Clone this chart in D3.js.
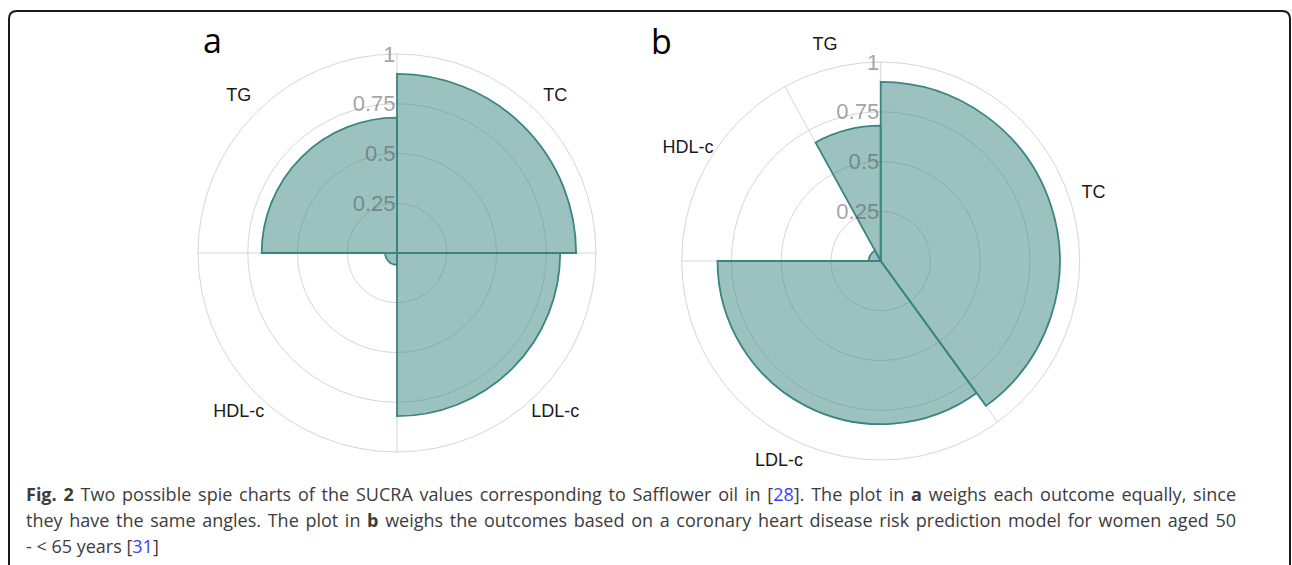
<!DOCTYPE html>
<html>
<head>
<meta charset="utf-8">
<script src="https://cdn.jsdelivr.net/npm/d3@7"></script>
<style>
  body { margin: 0; background: #fff; }
  #wrap { position: relative; width: 1292px; height: 565px; overflow: hidden; }
  .caption {
    position: absolute; left: 26px; top: 481px; width: 1210px;
    font-family: "Open Sans"; font-size: 18px; line-height: 26px; color: #3c3c3c;
  }
  .caption .j { text-align: justify; text-align-last: justify; }
  .caption .ref { color: #3d3dff; }
</style>
</head>
<body>
<div id="wrap">
  <svg id="chart" width="1292" height="565"></svg>
  <div class="caption">
    <div class="j"><b>Fig. 2</b> Two possible spie charts of the SUCRA values corresponding to Safflower oil in [<span class="ref">28</span>]. The plot in <b>a</b> weighs each outcome equally, since</div>
    <div class="j">they have the same angles. The plot in <b>b</b> weighs the outcomes based on a coronary heart disease risk prediction model for women aged 50</div>
    <div>- &lt; 65 years [<span class="ref">31</span>]</div>
  </div>
</div>
<script>
// SUCRA values per outcome (radius) and weights (angle)
const outcomes = ["TC", "LDL-c", "HDL-c", "TG"];
const sucra = [0.9, 0.82, 0.06, 0.68];
const weightsA = [0.25, 0.25, 0.25, 0.25];
const weightsB = [0.40, 0.35, 0.17, 0.08];
const radialTicks = [0.25, 0.5, 0.75, 1];
const tickLabels = ["0.25", "0.5", "0.75", "1"];

const svg = d3.select("#chart");
const teal = "#3a8582";

// frame round the figure
svg.append("path")
  .attr("d", "M9,575V19Q9,11 17,11H1282Q1290,11 1290,19V575")
  .attr("fill", "none")
  .attr("stroke", "#1a1a1a")
  .attr("stroke-width", 2);

function spie(cx, cy, weights, letter, lx, ly) {
  const R = 199;
  const r = d3.scaleLinear().domain([0, 1]).range([0, R]);
  const g = svg.append("g").attr("transform", "translate(" + cx + "," + cy + ")");

  const data = outcomes.map((k, i) => ({ key: k, value: sucra[i], weight: weights[i] }));
  const slices = d3.pie().sort(null).value(d => d.weight)(data);

  // grid circles
  g.selectAll(".grid")
    .data(radialTicks)
    .join("circle")
    .attr("class", "grid")
    .attr("r", d => r(d))
    .attr("fill", "none")
    .attr("stroke", "#d6d6d6")
    .attr("stroke-width", 1);

  // spokes on slice boundaries
  g.selectAll(".spoke")
    .data(slices)
    .join("line")
    .attr("class", "spoke")
    .attr("x1", 0).attr("y1", 0)
    .attr("x2", d => r(1) * Math.sin(d.startAngle))
    .attr("y2", d => -r(1) * Math.cos(d.startAngle))
    .attr("stroke", "#d6d6d6")
    .attr("stroke-width", 1);

  // the slices
  const arc = d3.arc().innerRadius(0).outerRadius(d => r(d.data.value));
  g.selectAll(".slice")
    .data(slices)
    .join("path")
    .attr("class", "slice")
    .attr("d", arc)
    .attr("fill", teal)
    .attr("fill-opacity", 0.5)
    .attr("stroke", teal)
    .attr("stroke-width", 1.8);

  // radial tick labels
  g.selectAll(".tick")
    .data(radialTicks)
    .join("text")
    .attr("class", "tick")
    .attr("x", -1.5)
    .attr("y", d => -r(d))
    .attr("text-anchor", "end")
    .attr("dominant-baseline", "central")
    .style("font-family", "'Liberation Sans', Arial, sans-serif")
    .style("font-size", "22px")
    .attr("fill", "#555")
    .attr("fill-opacity", 0.55)
    .text((d, i) => tickLabels[i]);

  // outcome labels at mid angle
  const lr = r(1.125);
  g.selectAll(".lab")
    .data(slices)
    .join("text")
    .attr("class", "lab")
    .attr("x", d => lr * Math.sin((d.startAngle + d.endAngle) / 2))
    .attr("y", d => -lr * Math.cos((d.startAngle + d.endAngle) / 2))
    .attr("text-anchor", "middle")
    .attr("dominant-baseline", "central")
    .style("font-family", "'Liberation Sans', Arial, sans-serif")
    .style("font-size", "18px")
    .attr("fill", "#1a1a1a")
    .text(d => d.data.key);

  // panel letter
  svg.append("text")
    .attr("x", lx).attr("y", ly)
    .style("font-family", "'Open Sans', sans-serif")
    .style("font-size", "34px")
    .attr("fill", "#000")
    .text(letter);
}

spie(397, 253, weightsA, "a", 203, 53);
spie(880.7, 261, weightsB, "b", 651, 54);
</script>
</body>
</html>
